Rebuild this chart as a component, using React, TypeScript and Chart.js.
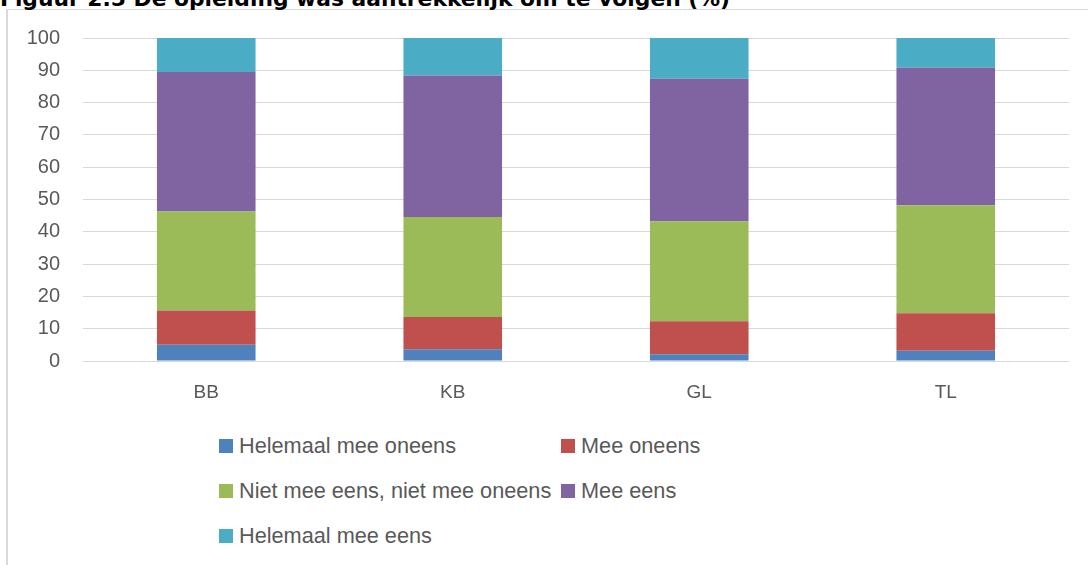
import React, { useEffect, useRef } from "react";
import { Chart, registerables } from "chart.js";

Chart.register(...registerables);

const titleText = "Figuur 2.5 De opleiding was aantrekkelijk om te volgen (%)";
const categories = ["BB", "KB", "GL", "TL"];
const seriesNames = [
  "Helemaal mee oneens",
  "Mee oneens",
  "Niet mee eens, niet mee oneens",
  "Mee eens",
  "Helemaal mee eens",
];
const helemaalMeeOneens = [5.0, 3.6, 2.1, 3.2];
const meeOneens = [10.6, 10.0, 10.2, 11.6];
const neutraal = [30.7, 31.0, 31.0, 33.4];
const meeEens = [43.2, 43.8, 44.1, 42.6];
const helemaalMeeEens = [10.5, 11.6, 12.6, 9.2];
const yTicks = [0, 10, 20, 30, 40, 50, 60, 70, 80, 90, 100];
const seriesColors = ["#4F81BD", "#C0504D", "#9BBB59", "#8064A2", "#4BACC6"];

const seriesValues = [helemaalMeeOneens, meeOneens, neutraal, meeEens, helemaalMeeEens];

const TEXT_COLOR = "#595959";
const GRID_COLOR = "#d9d9d9";
const FONT = "'Liberation Sans', Arial, sans-serif";

// legend layout (2 columns, row-major)
const legendCols = [219, 561];
const legendRows = [446, 491, 536];

export default function App() {
  const canvasRef = useRef<HTMLCanvasElement | null>(null);

  useEffect(() => {
    const canvas = canvasRef.current;
    if (!canvas) return;
    const chart = new Chart(canvas, {
      type: "bar",
      data: {
        labels: categories,
        datasets: seriesNames.map((name, i) => ({
          label: name,
          data: seriesValues[i],
          backgroundColor: seriesColors[i],
          borderWidth: 0,
          categoryPercentage: 0.4,
          barPercentage: 1,
        })),
      },
      options: {
        animation: false,
        responsive: false,
        maintainAspectRatio: false,
        layout: { padding: { top: 38, right: 19, bottom: 0, left: 0 } },
        plugins: {
          legend: { display: false },
          title: { display: false },
          tooltip: { enabled: false },
        },
        scales: {
          x: {
            stacked: true,
            grid: { display: false, drawTicks: false },
            border: { display: false },
            ticks: {
              color: TEXT_COLOR,
              font: { family: FONT, size: 19 },
              padding: 20,
            },
            afterFit: (scale: any) => {
              scale.height = 49;
            },
          },
          y: {
            stacked: true,
            min: 0,
            max: 100,
            grid: { color: GRID_COLOR, lineWidth: 1, drawTicks: false },
            border: { display: false },
            ticks: {
              color: TEXT_COLOR,
              font: { family: FONT, size: 20 },
              padding: 23,
            },
            afterBuildTicks: (scale: any) => {
              scale.ticks = yTicks.map((v) => ({ value: v }));
            },
            afterFit: (scale: any) => {
              scale.width = 83;
            },
          },
        },
      },
    });
    return () => chart.destroy();
  }, []);

  return (
    <div
      style={{
        position: "absolute",
        left: 0,
        top: 0,
        width: 1088,
        height: 565,
        overflow: "hidden",
        background: "#ffffff",
      }}
    >
      <div
        style={{
          position: "absolute",
          left: 6,
          top: 9,
          width: 1200,
          height: 700,
          borderLeft: `2px solid ${GRID_COLOR}`,
          borderTop: `1px solid ${GRID_COLOR}`,
          boxSizing: "border-box",
        }}
      />
      <div
        style={{
          position: "absolute",
          left: 0,
          top: -12,
          fontFamily: "'DejaVu Sans', Verdana, sans-serif",
          fontWeight: "bold",
          fontSize: 21.8,
          lineHeight: "22px",
          whiteSpace: "nowrap",
          color: "#000000",
        }}
      >
        {titleText}
      </div>
      <canvas
        ref={canvasRef}
        width={1088}
        height={410}
        style={{ position: "absolute", left: 0, top: 0, width: 1088, height: 410 }}
      />
      {seriesNames.map((name, i) => {
        const col = i % 2;
        const row = Math.floor(i / 2);
        return (
          <div
            key={name}
            style={{
              position: "absolute",
              left: legendCols[col],
              top: legendRows[row] - 14,
              height: 28,
              display: "flex",
              alignItems: "center",
              whiteSpace: "nowrap",
              fontFamily: FONT,
              fontSize: 21.7,
              color: TEXT_COLOR,
            }}
          >
            <span
              style={{
                display: "inline-block",
                width: 14,
                height: 14,
                background: seriesColors[i],
                marginRight: 6,
                flexShrink: 0,
              }}
            />
            <span>{name}</span>
          </div>
        );
      })}
    </div>
  );
}
